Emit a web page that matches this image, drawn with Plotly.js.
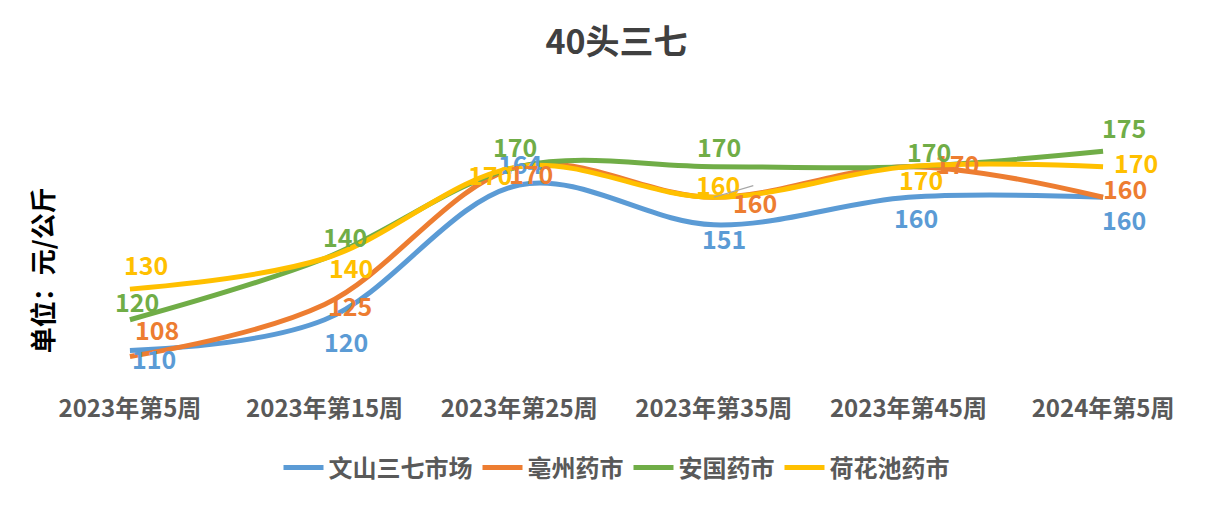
<!DOCTYPE html>
<html><head><meta charset="utf-8">
<script src="https://cdn.plot.ly/plotly-3.0.1.min.js"></script>
<style>body{margin:0;background:#fff}#c{width:1227px;height:510px}</style>
</head><body><div id="c"></div>
<script>
const categories = ["2023年第5周","2023年第15周","2023年第25周","2023年第35周","2023年第45周","2024年第5周"];
const seriesNames = ["文山三七市场","亳州药市","安国药市","荷花池药市"];
const wenshan = [110,120,164,151,160,160];
const bozhou = [108,125,170,160,170,160];
const anguo = [120,140,170,170,170,175];
const hehuachi = [130,140,170,160,170,170];
const seriesValues = [wenshan, bozhou, anguo, hehuachi];
const colors = ["#5B9BD5","#ED7D31","#70AD47","#FFC000"];
// label offsets in px (dx, dy) per series per point
const labelOffsets = [
  [[24,8],[21,21],[1,-22],[10,13],[8,20],[21,22]],
  [[27,-28],[25,1],[12,6],[41,5],[49,-4],[22,-9]],
  [[7,-19],[20,-23],[-4,-21],[5,-21],[21,-16],[21,-24]],
  [[16,-25],[26,8],[-29,7],[4,-13],[13,12],[33,-5]]
];
const xs = categories.map((c,i)=>i);
const traces = seriesValues.map((vals,s)=>({
  type:'scatter', mode:'lines', name:seriesNames[s], x:xs, y:vals,
  line:{color:colors[s], width:5, shape:'spline', smoothing:1},
  hoverinfo:'skip'
}));
const annotations = [];
seriesValues.forEach((vals,s)=>{
  vals.forEach((v,i)=>{
    annotations.push({x:i, y:v, xref:'x', yref:'y', text:String(v), showarrow:false,
      xshift:labelOffsets[s][i][0], yshift:-labelOffsets[s][i][1],
      font:{family:'Noto Sans CJK SC', size:25, color:colors[s], weight:'bold'}});
  });
});
// leader line for 荷花池药市 at 2023年第35周
annotations.push({x:3, y:hehuachi[3], xref:'x', yref:'y', text:'', showarrow:true, arrowhead:0,
  arrowwidth:1.2, arrowcolor:'#A6A6A6', ax:41, ay:-12, standoff:0, startstandoff:0});
annotations.push({xref:'paper', yref:'paper', x:-0.047, y:0.45, text:'单位：元/公斤', textangle:-90,
  showarrow:false, xanchor:'center', yanchor:'middle',
  font:{family:'Noto Sans CJK SC', size:26, color:'#000', weight:'bold'}});
const layout = {
  width:1227, height:510,
  margin:{l:91, r:85, t:136, b:129},
  paper_bgcolor:'#fff', plot_bgcolor:'#fff',
  title:{text:'40头三七', x:0.5, xref:'paper', y:1-42/510, yanchor:'middle', xanchor:'center',
    font:{family:'Noto Sans CJK SC', size:34, color:'#404040', weight:'bold'}},
  xaxis:{range:[-0.2,5.2], tickvals:xs, ticktext:categories, showgrid:false, zeroline:false,
    showline:false, ticks:'', ticklabelstandoff:11,
    tickfont:{family:'Noto Sans CJK SC', size:24, color:'#595959', weight:'bold'}},
  yaxis:{range:[100,180], showgrid:false, zeroline:false, showline:false, showticklabels:false, ticks:''},
  showlegend:true,
  legend:{orientation:'h', x:0.5, xanchor:'center', y:-0.355, yanchor:'middle',
    font:{family:'Noto Sans CJK SC', size:24, color:'#595959', weight:'bold'}, itemwidth:40},
  annotations:annotations
};
Plotly.newPlot('c', traces, layout, {displayModeBar:false, staticPlot:true});
</script></body></html>
